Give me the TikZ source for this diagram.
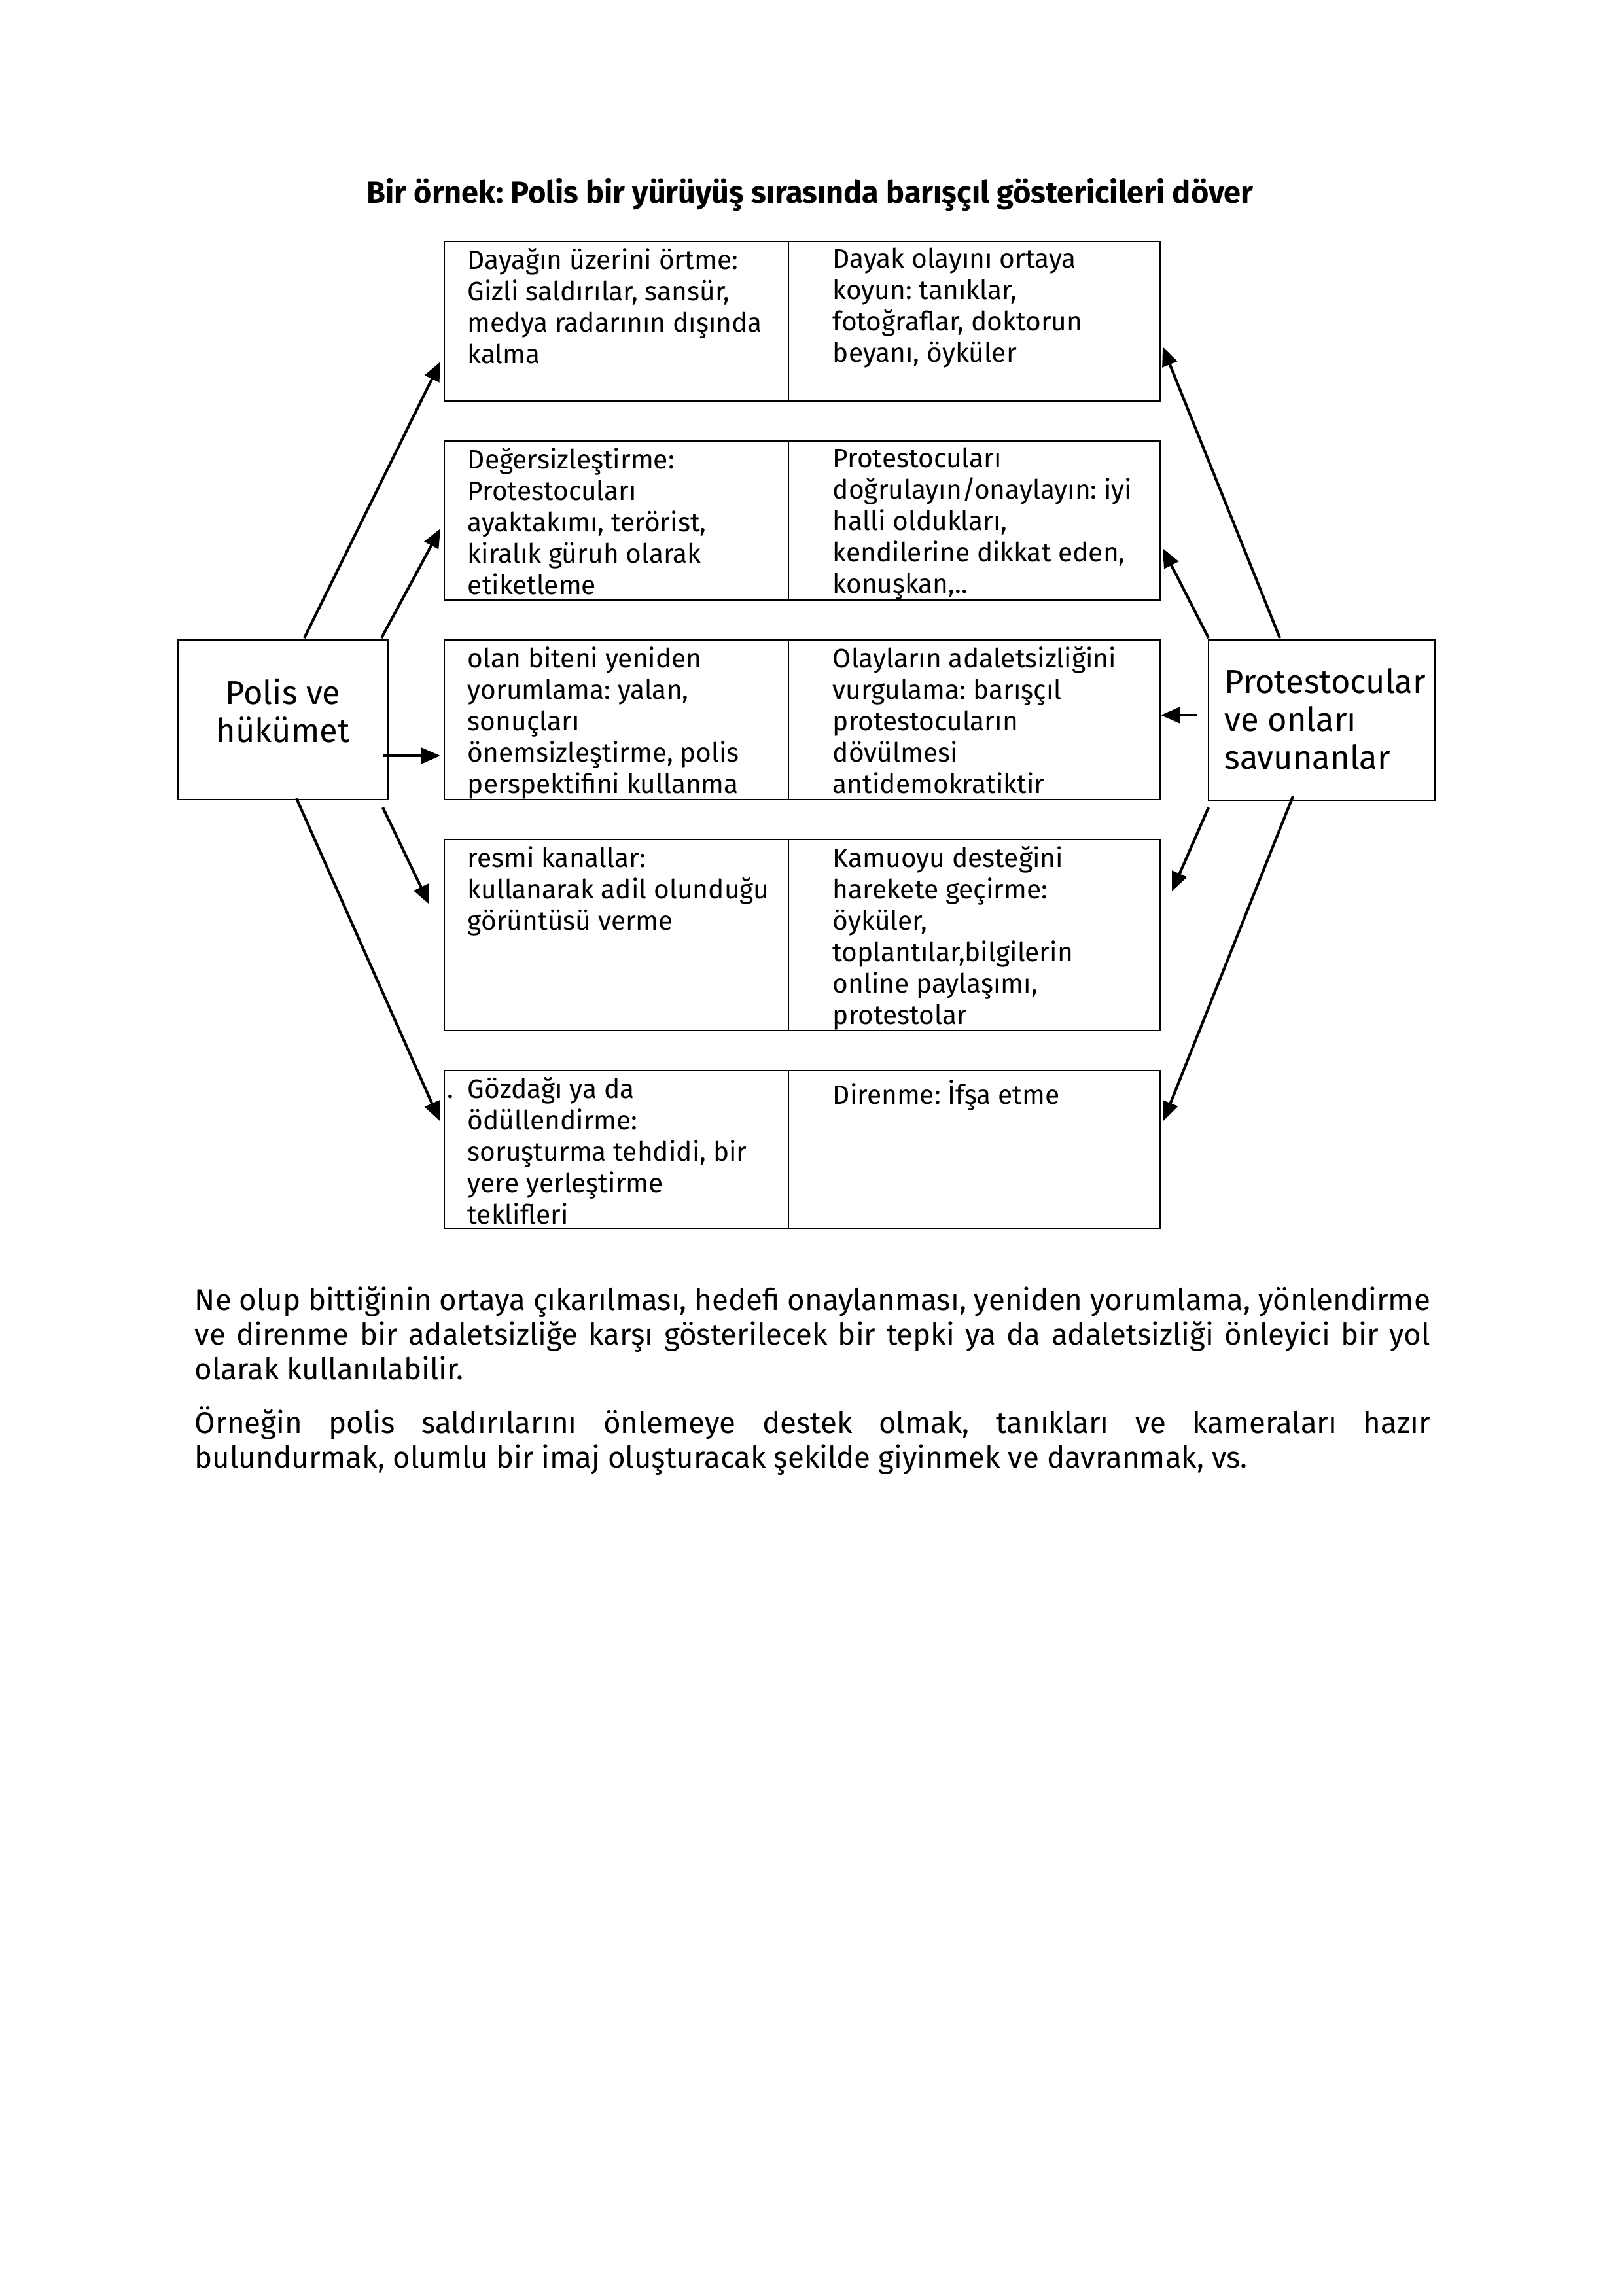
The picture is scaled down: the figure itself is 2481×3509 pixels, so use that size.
\documentclass[tikz,border=0pt]{standalone}
\usepackage{fontspec}
\setmainfont{Fira Sans}
\usetikzlibrary{arrows.meta}
\def\px{0.24088pt}
\newcommand{\celltxt}{\fontsize{9.8}{11.56}\selectfont}
\newcommand{\bigtxt}{\fontsize{12.2}{14.05}\selectfont}
\newcommand{\bodytxt}{\fontsize{11}{12.77}\selectfont}
\frenchspacing
\begin{document}
\begin{tikzpicture}[x=0.24088pt, y=-0.24088pt,
  tbox/.style={draw, line width=0.7pt, inner sep=0pt, minimum width=1094*\px},
  sidebox/.style={draw, line width=0.6pt, inner sep=0pt},
  cell/.style={anchor=north west, inner sep=0pt, align=left, font=\celltxt,
    yshift=10pt, execute at begin node={\rule{0pt}{10pt}}},
  bigcell/.style={inner sep=0pt, font=\bigtxt, yshift=12pt,
    execute at begin node={\rule{0pt}{12pt}}},
  bodypar/.style={anchor=north west, inner sep=0pt, align=left, font=\bodytxt, yshift=11pt,
    execute at begin node={\rule{0pt}{11pt}}},
  arr/.style={line width=1pt, -{Triangle[length=7pt,width=5.8pt]}},
  divider/.style={line width=0.5pt}]
\useasboundingbox (0,0) rectangle (2481,3509);

% title
\node[anchor=base, inner sep=0pt, font=\fontsize{11.3}{13}\selectfont\bfseries] (title) at (1238,311)
  {Bir örnek: Polis bir yürüyüş sırasında barışçıl göstericileri döver};

% table boxes
\node[tbox, minimum height=244*\px] (b1) at (1226,491) {};
\node[tbox, minimum height=243*\px] (b2) at (1226,795.5) {};
\node[tbox, minimum height=244*\px] (b3) at (1226,1100) {};
\node[tbox, minimum height=292*\px] (b4) at (1226,1429) {};
\node[tbox, minimum height=242*\px] (b5) at (1226,1757) {};
\draw[divider] (1205,369) -- (1205,613);
\draw[divider] (1205,674) -- (1205,917);
\draw[divider] (1205,978) -- (1205,1222);
\draw[divider] (1205,1283) -- (1205,1575);
\draw[divider] (1205,1636) -- (1205,1878);

% side boxes
\node[sidebox, minimum width=321*\px, minimum height=244*\px] (polis) at (432.5,1100) {};
\node[sidebox, minimum width=346*\px, minimum height=245*\px] (prot) at (2020,1100.5) {};
\node[bigcell, anchor=north, align=center] (polist) at (432.5,1086) {Polis ve\\hükümet};
\node[bigcell, anchor=north west, align=left] (prott) at (1871,1070) {Protestocular\\ve onları\\savunanlar};

% cell texts
\node[cell] (b1l) at (714,420) {Dayağın üzerini örtme:\\Gizli saldırılar, sansür,\\medya radarının dışında\\kalma};
\node[cell] (b1r) at (1272,420) {Dayak olayını ortaya\\koyun: tanıklar,\\fotoğraflar, doktorun\\beyanı, öyküler};
\node[cell] (b2l) at (714,725) {Değersizleştirme:\\Protestocuları\\ayaktakımı, terörist,\\kiralık güruh olarak\\etiketleme};
\node[cell] (b2r) at (1272,725) {Protestocuları\\doğrulayın/onaylayın: iyi\\halli oldukları,\\kendilerine dikkat eden,\\konuşkan,..};
\node[cell] (b3l) at (714,1029) {olan biteni yeniden\\yorumlama: yalan,\\sonuçları\\önemsizleştirme, polis\\perspektifini kullanma};
\node[cell] (b3r) at (1272,1029) {Olayların adaletsizliğini\\vurgulama: barışçıl\\protestocuların\\dövülmesi\\antidemokratiktir};
\node[cell] (b4l) at (714,1334) {resmi kanallar:\\kullanarak adil olunduğu\\görüntüsü verme};
\node[cell] (b4r) at (1272,1334) {Kamuoyu desteğini\\harekete geçirme:\\öyküler,\\toplantılar,bilgilerin\\online paylaşımı,\\protestolar};
\node[cell] (b5l) at (714,1687) {\llap{.\kern 5.2pt}Gözdağı ya da\\ödüllendirme:\\soruşturma tehdidi, bir\\yere yerleştirme\\teklifleri};
\node[cell] (b5r) at (1272,1687) {Direnme: İfşa etme};

% arrow end points
\coordinate (a1s) at (465,975);  \coordinate (a1e) at (673,553);
\coordinate (a2s) at (583,975);  \coordinate (a2e) at (673,808);
\coordinate (a3s) at (585,1155); \coordinate (a3e) at (673,1155);
\coordinate (a4s) at (585,1234); \coordinate (a4e) at (656,1382);
\coordinate (a5s) at (453,1220); \coordinate (a5e) at (672,1713);
\coordinate (c1s) at (1956,975);  \coordinate (c1e) at (1777,530);
\coordinate (c2s) at (1847,975);  \coordinate (c2e) at (1777,838);
\coordinate (c3s) at (1829,1093); \coordinate (c3e) at (1774,1093);
\coordinate (c4s) at (1847,1234); \coordinate (c4e) at (1791,1362);
\coordinate (c5s) at (1976,1217); \coordinate (c5e) at (1778,1713);

\draw[arr] (a1s) -- (a1e);
\draw[arr] (a2s) -- (a2e);
\draw[arr] (a3s) -- (a3e);
\draw[arr] (a4s) -- (a4e);
\draw[arr] (a5s) -- (a5e);
\draw[arr] (c1s) -- (c1e);
\draw[arr] (c2s) -- (c2e);
\draw[arr] (c3s) -- (c3e);
\draw[arr] (c4s) -- (c4e);
\draw[arr] (c5s) -- (c5e);

% body text
\node[bodypar] (para1) at (297,2011)
  {\makebox[454.8pt][s]{Ne olup bittiğinin ortaya çıkarılması, hedefi onaylanması, yeniden yorumlama, yönlendirme}\\
   \makebox[454.8pt][s]{ve direnme bir adaletsizliğe karşı gösterilecek bir tepki ya da adaletsizliği önleyici bir yol}\\
   olarak kullanılabilir.};
\node[bodypar] (para2) at (297,2194)
  {\makebox[454.8pt][s]{Örneğin polis saldırılarını önlemeye destek olmak, tanıkları ve kameraları hazır}\\
   bulundurmak, olumlu bir imaj oluşturacak şekilde giyinmek ve davranmak, vs.};
\end{tikzpicture}
\end{document}
